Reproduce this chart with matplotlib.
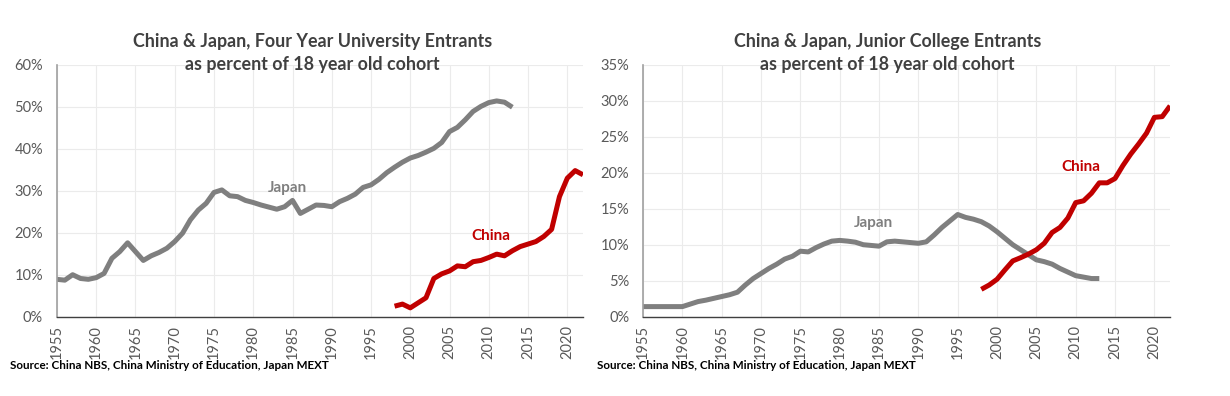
import matplotlib
matplotlib.use("Agg")
import matplotlib.pyplot as plt
import numpy as np
from matplotlib.ticker import PercentFormatter

plt.rcParams["font.family"] = ["Lato", "DejaVu Sans"]

# %% Data (percent of 18 year old cohort)

japan_univ_years = list(range(1955, 2014))
japan_univ = [
    8.9, 8.7, 10.0, 9.1, 8.9, 9.3, 10.3, 13.9, 15.5, 17.6,
    15.5, 13.4, 14.5, 15.3, 16.3, 17.9, 19.9, 23.1, 25.4, 27.0,
    29.6, 30.2, 28.8, 28.6, 27.7, 27.2, 26.6, 26.1, 25.6, 26.2,
    27.7, 24.6, 25.6, 26.6, 26.5, 26.2, 27.4, 28.2, 29.2, 30.8,
    31.4, 32.7, 34.3, 35.6, 36.8, 37.8, 38.4, 39.2, 40.1, 41.5,
    44.1, 45.1, 46.9, 48.9, 50.1, 51.0, 51.4, 51.1, 49.9,
]

china_univ_years = list(range(1998, 2023))
china_univ = [
    2.5, 3.0, 2.1, 3.3, 4.5, 9.1, 10.2, 10.9, 12.1, 11.9,
    13.1, 13.4, 14.1, 14.9, 14.5, 15.7, 16.7, 17.3, 17.9, 19.1,
    20.8, 28.6, 33.0, 34.8, 33.8,
]

japan_jc_years = list(range(1955, 2014))
japan_jc = [
    1.4, 1.4, 1.4, 1.4, 1.4, 1.4,
    1.75, 2.1, 2.3, 2.55, 2.8, 3.05, 3.4, 4.4, 5.3, 6.0,
    6.7, 7.3, 8.0, 8.4, 9.1, 9.0, 9.6, 10.1, 10.5, 10.6,
    10.5, 10.35, 10.0, 9.9, 9.8, 10.4, 10.5, 10.4, 10.3, 10.2,
    10.4, 11.35, 12.4, 13.3, 14.2, 13.8, 13.55, 13.2, 12.6, 11.8,
    10.9, 10.0, 9.3, 8.6, 7.9, 7.65, 7.3, 6.7, 6.2, 5.7,
    5.5, 5.3, 5.3,
]

china_jc_years = list(range(1998, 2023))
china_jc = [
    3.8, 4.4, 5.2, 6.5, 7.75, 8.2, 8.7, 9.3, 10.2, 11.7,
    12.4, 13.7, 15.85, 16.1, 17.15, 18.6, 18.6, 19.2, 21.0, 22.6,
    24.0, 25.5, 27.7, 27.8, 29.3,
]

tick_years = list(range(1955, 2021, 5))

JAPAN_COLOR = "#7f7f7f"
CHINA_COLOR = "#c00000"
TEXT_COLOR = "#404040"
SOURCE = "Source: China NBS, China Ministry of Education, Japan MEXT"


# %% Helpers

def style_axis(ax, ymax, ystep):
    ax.set_xlim(1955, 2022)
    ax.set_ylim(0, ymax)
    ax.set_yticks(np.arange(0, ymax + 0.01, ystep))
    ax.yaxis.set_major_formatter(PercentFormatter(decimals=0))
    ax.set_xticks(tick_years)
    ax.set_xticklabels([str(y) for y in tick_years], rotation=90)
    ax.tick_params(axis="both", length=0, labelsize=10.5, colors="#595959")
    ax.tick_params(axis="y", pad=10)
    ax.tick_params(axis="x", pad=6)
    ax.grid(True, color="#ebebeb", linewidth=0.8)
    ax.set_axisbelow(True)
    for side in ("top", "right"):
        ax.spines[side].set_visible(False)
    ax.spines["left"].set_color("#a0a0a0")
    ax.spines["left"].set_linewidth(1.2)
    ax.spines["bottom"].set_color("#404040")
    ax.spines["bottom"].set_linewidth(1.0)


# %% Figure

fig = plt.figure(figsize=(12.3, 3.96), dpi=100)
ax1 = fig.add_axes([0.0463, 0.2003, 0.4277, 0.636])
ax2 = fig.add_axes([0.5228, 0.2003, 0.4285, 0.636])

ax1.plot(japan_univ_years, japan_univ, color=JAPAN_COLOR, lw=3.6, solid_capstyle="butt")
ax1.plot(china_univ_years, china_univ, color=CHINA_COLOR, lw=3.6, solid_capstyle="butt")
style_axis(ax1, 60, 10)
ax1.text(1984.3, 30.7, "Japan", color=JAPAN_COLOR, fontsize=11, fontweight="bold",
         ha="center", va="center")
ax1.text(2010.3, 19.2, "China", color=CHINA_COLOR, fontsize=11, fontweight="bold",
         ha="center", va="center")

ax2.plot(japan_jc_years, japan_jc, color=JAPAN_COLOR, lw=3.6, solid_capstyle="butt")
ax2.plot(china_jc_years, china_jc, color=CHINA_COLOR, lw=3.6, solid_capstyle="butt")
style_axis(ax2, 35, 5)
ax2.text(1984.3, 13.0, "Japan", color=JAPAN_COLOR, fontsize=11, fontweight="bold",
         ha="center", va="center")
ax2.text(2010.6, 20.8, "China", color=CHINA_COLOR, fontsize=11, fontweight="bold",
         ha="center", va="center")

fig.text(0.254, 0.917, "China & Japan, Four Year University Entrants\nas percent of 18 year old cohort",
         ha="center", va="top", fontsize=12.9, fontweight="bold", color=TEXT_COLOR, linespacing=1.45)
fig.text(0.7215, 0.917, "China & Japan, Junior College Entrants\nas percent of 18 year old cohort",
         ha="center", va="top", fontsize=12.9, fontweight="bold", color=TEXT_COLOR, linespacing=1.45)

fig.text(0.008, 0.078, SOURCE, ha="left", va="center", fontsize=8.4, fontweight="bold", color="black")
fig.text(0.485, 0.078, SOURCE, ha="left", va="center", fontsize=8.4, fontweight="bold", color="black")

fig.savefig("out.png", dpi=100)
